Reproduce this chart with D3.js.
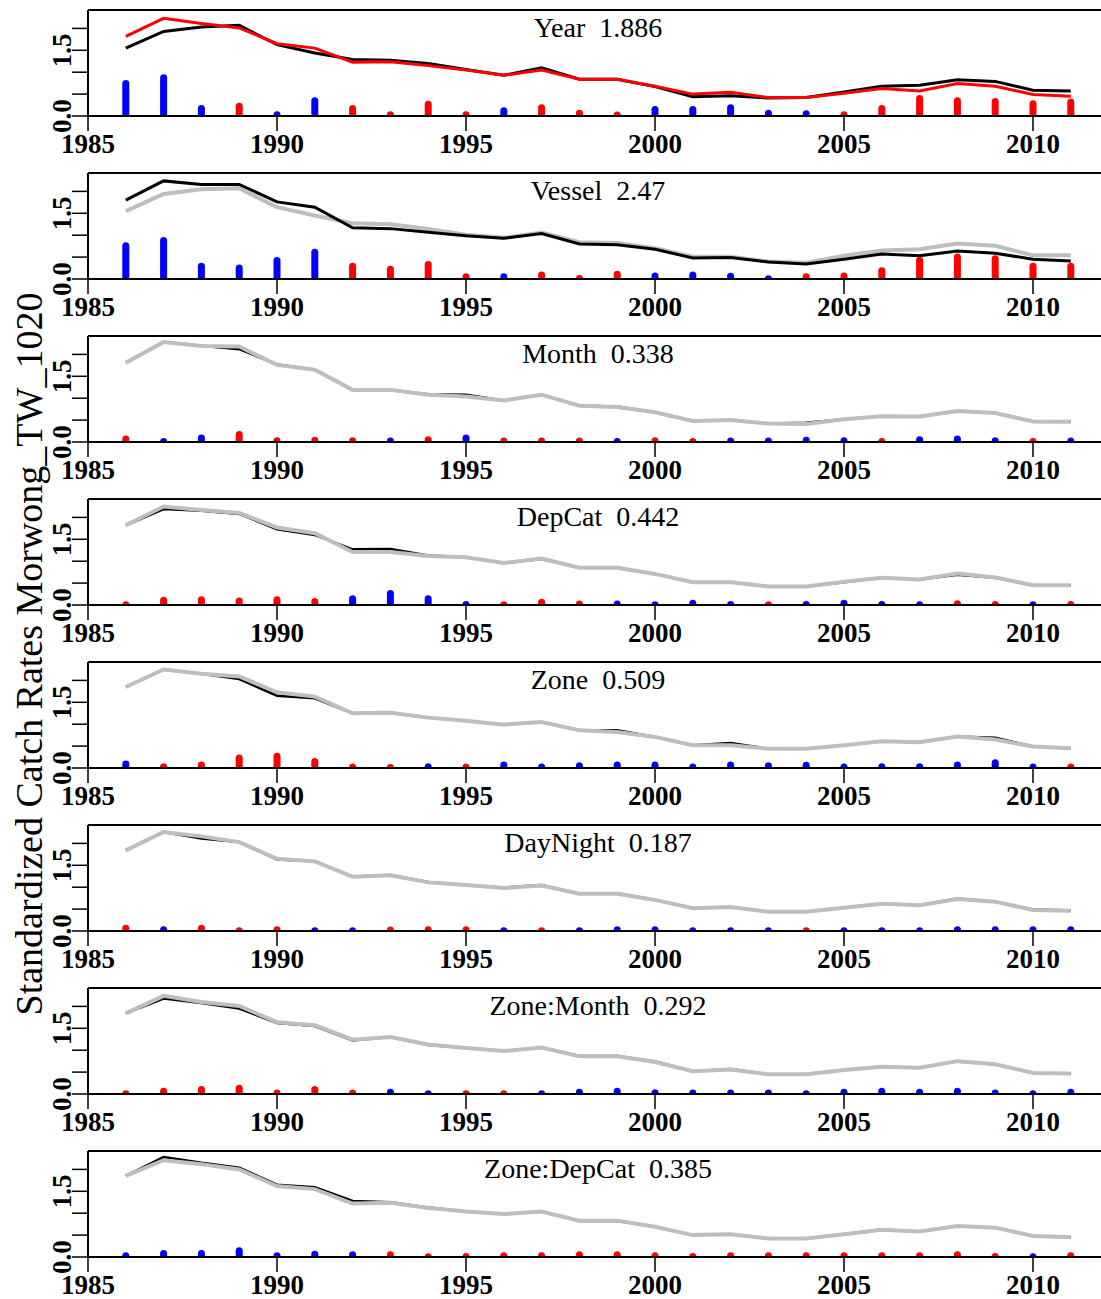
<!DOCTYPE html>
<html>
<head>
<meta charset="utf-8">
<script src="https://cdn.jsdelivr.net/npm/d3@7"></script>
<style>
  body { margin:0; background:#fff; }
  text { font-family:"Liberation Serif","Times New Roman",serif; }
</style>
</head>
<body>
<script>
// years and panel titles
const years=d3.range(1986,2012);
const titles=["Year  1.886","Vessel  2.47","Month  0.338","DepCat  0.442","Zone  0.509","DayNight  0.187","Zone:Month  0.292","Zone:DepCat  0.385"];
const xTicks=[1985,1990,1995,2000,2005,2010];
const yTicks=[0,0.5,1,1.5,2];
const yLabels=["0.0","1.5"];

// panel 1 : black and red index, influence (+ red, - blue)
const yearBlack=[1.55,1.93,2.03,2.07,1.63,1.44,1.29,1.27,1.20,1.06,0.93,1.10,0.84,0.84,0.67,0.44,0.46,0.41,0.42,0.55,0.68,0.70,0.83,0.79,0.59,0.57];
const yearRed=[1.82,2.23,2.11,2.01,1.65,1.55,1.23,1.24,1.15,1.05,0.93,1.05,0.84,0.84,0.68,0.50,0.54,0.42,0.42,0.52,0.63,0.57,0.74,0.68,0.49,0.45];
const yearInfl=[-0.74,-0.875,-0.17,0.22,-0.03,-0.35,0.17,0.03,0.27,0.03,-0.12,0.19,0.06,0.02,-0.15,-0.15,-0.19,-0.06,-0.05,0.03,0.17,0.40,0.35,0.33,0.28,0.32];

const vesselBlack=[1.80,2.24,2.16,2.16,1.76,1.64,1.17,1.15,1.07,0.99,0.93,1.04,0.80,0.78,0.68,0.48,0.49,0.39,0.34,0.45,0.57,0.53,0.64,0.59,0.45,0.41];
const vesselGrey=[1.55,1.94,2.05,2.07,1.64,1.45,1.27,1.25,1.14,1.01,0.94,1.06,0.84,0.82,0.70,0.51,0.51,0.40,0.37,0.53,0.65,0.68,0.81,0.76,0.54,0.54];
const vesselInfl=[-0.76,-0.88,-0.29,-0.25,-0.42,-0.61,0.29,0.22,0.33,0.05,-0.05,0.09,0.01,0.11,-0.07,-0.09,-0.06,-0.005,0.05,0.07,0.19,0.43,0.50,0.46,0.29,0.29];

const monthBlack=[1.82,2.28,2.20,2.12,1.77,1.65,1.19,1.19,1.09,1.08,0.95,1.08,0.83,0.81,0.68,0.48,0.50,0.42,0.44,0.52,0.59,0.58,0.71,0.66,0.47,0.46];
const monthGrey=[1.81,2.28,2.19,2.18,1.76,1.65,1.19,1.19,1.08,1.04,0.95,1.08,0.83,0.80,0.68,0.48,0.50,0.42,0.41,0.52,0.59,0.58,0.71,0.66,0.47,0.46];
const monthInfl=[0.07,-0.01,-0.09,0.17,0.03,0.04,0.03,-0.02,0.05,-0.09,0.02,0.02,0.02,-0.01,0.03,0.01,-0.02,-0.02,-0.04,-0.03,0.01,-0.05,-0.07,-0.03,0.01,-0.02];

const depcatBlack=[1.82,2.19,2.15,2.08,1.73,1.60,1.27,1.28,1.13,1.09,0.96,1.05,0.85,0.85,0.71,0.52,0.52,0.42,0.42,0.52,0.62,0.58,0.69,0.62,0.45,0.45];
const depcatGrey=[1.82,2.25,2.17,2.10,1.77,1.64,1.21,1.21,1.12,1.09,0.96,1.06,0.85,0.85,0.71,0.52,0.52,0.42,0.42,0.53,0.62,0.58,0.72,0.63,0.45,0.45];
const depcatInfl=[0.005,0.11,0.12,0.09,0.12,0.08,-0.14,-0.26,-0.14,-0.01,0.005,0.06,0.02,-0.02,-0.005,-0.04,-0.01,0.005,-0.01,-0.04,-0.01,-0.005,0.03,0.01,-0.005,0.01];

const zoneBlack=[1.85,2.25,2.15,2.03,1.65,1.59,1.25,1.26,1.15,1.08,0.99,1.05,0.86,0.86,0.71,0.52,0.57,0.44,0.44,0.52,0.61,0.59,0.72,0.69,0.49,0.45];
const zoneGrey=[1.85,2.25,2.15,2.09,1.73,1.63,1.25,1.26,1.15,1.08,0.99,1.05,0.86,0.82,0.71,0.52,0.52,0.44,0.44,0.52,0.61,0.59,0.72,0.65,0.49,0.45];
const zoneInfl=[-0.09,0.03,0.07,0.23,0.27,0.15,0.02,0.01,-0.03,0.02,-0.07,-0.02,-0.05,-0.07,-0.07,-0.02,-0.07,-0.05,-0.06,-0.02,-0.03,-0.03,-0.07,-0.12,-0.02,0.02];

const daynightBlack=[1.84,2.26,2.11,2.03,1.63,1.59,1.24,1.28,1.12,1.05,0.99,1.05,0.85,0.86,0.71,0.52,0.55,0.44,0.44,0.53,0.62,0.59,0.74,0.67,0.49,0.47];
const daynightGrey=[1.84,2.26,2.16,2.03,1.65,1.59,1.24,1.27,1.11,1.05,0.98,1.04,0.85,0.85,0.71,0.52,0.55,0.44,0.44,0.53,0.62,0.59,0.73,0.67,0.48,0.46];
const daynightInfl=[0.06,-0.03,0.06,0.005,0.03,-0.005,-0.005,0.02,0.03,0.03,-0.005,0.005,-0.005,-0.03,-0.03,-0.005,-0.005,-0.005,0.005,-0.005,-0.005,-0.005,-0.03,-0.03,-0.03,-0.03];

const zmBlack=[1.84,2.18,2.08,1.95,1.62,1.55,1.22,1.30,1.12,1.05,0.98,1.06,0.87,0.87,0.74,0.52,0.57,0.45,0.45,0.55,0.62,0.60,0.75,0.68,0.48,0.47];
const zmGrey=[1.84,2.24,2.10,2.01,1.64,1.57,1.24,1.30,1.13,1.05,0.98,1.06,0.86,0.86,0.73,0.52,0.56,0.45,0.45,0.55,0.62,0.60,0.75,0.68,0.48,0.47];
const zmInfl=[0.005,0.06,0.10,0.13,0.02,0.10,0.02,-0.04,-0.005,0.005,0.005,-0.005,-0.04,-0.06,-0.03,-0.02,-0.02,-0.02,-0.005,-0.04,-0.06,-0.04,-0.06,-0.02,-0.005,-0.04];

const zdBlack=[1.85,2.28,2.15,2.04,1.65,1.59,1.28,1.25,1.13,1.04,0.98,1.04,0.82,0.82,0.69,0.50,0.52,0.42,0.42,0.52,0.62,0.58,0.71,0.67,0.48,0.45];
const zdGrey=[1.85,2.21,2.12,2.00,1.62,1.55,1.22,1.24,1.12,1.04,0.98,1.04,0.83,0.83,0.69,0.50,0.52,0.42,0.42,0.52,0.62,0.58,0.71,0.67,0.48,0.45];
const zdInfl=[-0.03,-0.08,-0.08,-0.14,-0.03,-0.06,-0.05,0.05,0.005,0.01,0.03,0.03,0.05,0.05,0.03,0.01,0.03,0.03,0.03,0.03,0.03,0.03,0.05,0.01,-0.005,0.03];

const panels=[
  {black:yearBlack,other:yearRed,infl:yearInfl,col:"#ff0000"},
  {black:vesselBlack,other:vesselGrey,infl:vesselInfl,col:"#bebebe",under:true},
  {black:monthBlack,other:monthGrey,infl:monthInfl,col:"#bebebe"},
  {black:depcatBlack,other:depcatGrey,infl:depcatInfl,col:"#bebebe"},
  {black:zoneBlack,other:zoneGrey,infl:zoneInfl,col:"#bebebe"},
  {black:daynightBlack,other:daynightGrey,infl:daynightInfl,col:"#bebebe"},
  {black:zmBlack,other:zmGrey,infl:zmInfl,col:"#bebebe"},
  {black:zdBlack,other:zdGrey,infl:zdInfl,col:"#bebebe"}
];

const W=1101,H=1299;
const svg=d3.select('body').append('svg').attr('width',W).attr('height',H);

const x=d3.scaleLinear().domain([1985,2010]).range([88,1033]);
const pTop=10, pStep=163, pH=106;

svg.append('text')
  .attr('transform','translate(42,654) rotate(-90)')
  .attr('text-anchor','middle')
  .style('font-size','38px')
  .text('Standardized Catch Rates Morwong_TW_1020');

panels.forEach((p,i)=>{
  const top=pTop+i*pStep, base=top+pH;
  const y=d3.scaleLinear().domain([0,2.42]).range([base,top]);
  const g=svg.append('g');

  g.append('clipPath').attr('id','clip'+i).append('rect')
    .attr('x',88).attr('y',top).attr('width',W-88).attr('height',pH);

  // influence bars
  g.append('g').attr('clip-path','url(#clip'+i+')')
    .selectAll('line').data(p.infl).enter().append('line')
    .attr('x1',(d,j)=>x(years[j])).attr('x2',(d,j)=>x(years[j]))
    .attr('y1',y(0)+4).attr('y2',d=>y(Math.abs(d)))
    .attr('stroke',d=>d<0?'#0000ff':'#ff0000')
    .attr('stroke-width',7).attr('stroke-linecap','round');

  const line=d3.line().x((d,j)=>x(years[j])).y(d=>y(d));
  const drawBlack=()=>g.append('path').datum(p.black).attr('d',line)
    .attr('fill','none').attr('stroke','#000').attr('stroke-width',i<2?3:2.5);
  const drawOther=()=>g.append('path').datum(p.other).attr('d',line)
    .attr('fill','none').attr('stroke',p.col).attr('stroke-width',i==0?3:4);
  if(p.under){ drawOther(); drawBlack(); } else { drawBlack(); drawOther(); }

  // box top and left, bottom axis
  g.append('line').attr('x1',88).attr('x2',W).attr('y1',top).attr('y2',top)
    .attr('stroke','#000').attr('stroke-width',2);
  g.append('line').attr('x1',88).attr('x2',W).attr('y1',base).attr('y2',base)
    .attr('stroke','#000').attr('stroke-width',2);
  g.append('line').attr('x1',88).attr('x2',88).attr('y1',top).attr('y2',base)
    .attr('stroke','#000').attr('stroke-width',2);

  // y ticks
  g.selectAll('.yt').data(yTicks).enter().append('line')
    .attr('x1',72).attr('x2',88).attr('y1',d=>y(d)).attr('y2',d=>y(d))
    .attr('stroke','#000').attr('stroke-width',1.5);
  g.selectAll('.yl').data(yLabels).enter().append('text')
    .attr('transform',d=>'translate(71,'+y(+d)+') rotate(-90)')
    .attr('text-anchor','middle')
    .style('font-size','27px').style('font-weight','bold')
    .text(d=>d);

  // x ticks
  g.selectAll('.xt').data(xTicks).enter().append('line')
    .attr('x1',d=>x(d)).attr('x2',d=>x(d)).attr('y1',base).attr('y2',base+15)
    .attr('stroke','#000').attr('stroke-width',1.5);
  g.selectAll('.xl').data(xTicks).enter().append('text')
    .attr('x',d=>x(d)).attr('y',base+37)
    .attr('text-anchor','middle')
    .style('font-size','27px').style('font-weight','bold')
    .text(d=>d);

  g.append('text').attr('x',598).attr('y',top+27)
    .attr('text-anchor','middle').attr('xml:space','preserve')
    .style('font-size','28px').style('white-space','pre')
    .text(titles[i]);
});
</script>
</body>
</html>
